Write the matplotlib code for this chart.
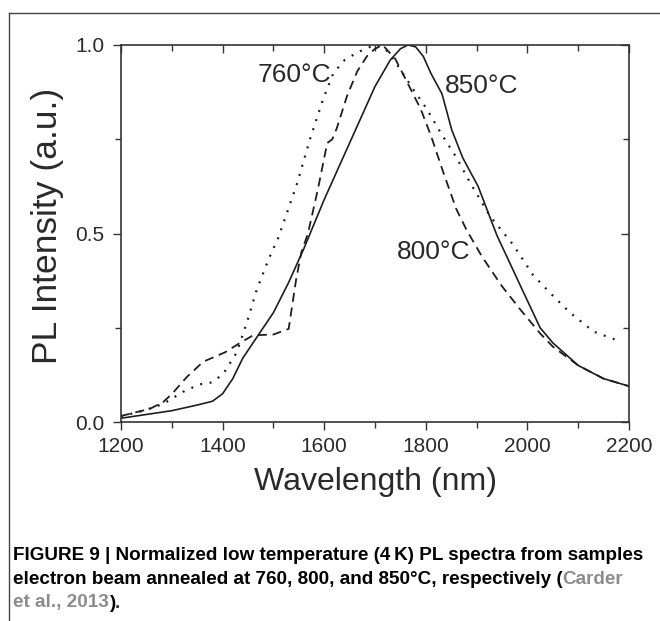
import matplotlib
matplotlib.use("Agg")
import matplotlib.pyplot as plt
from matplotlib.lines import Line2D
from matplotlib.ticker import MultipleLocator

plt.rcParams['font.family'] = ['Liberation Sans', 'DejaVu Sans']

# ---- data ----
x_850 = [1200, 1250, 1300, 1350, 1380, 1400, 1420, 1440, 1470, 1500, 1530, 1560,
         1600, 1650, 1700, 1730, 1750, 1765, 1780, 1795, 1810, 1832, 1851, 1873,
         1903, 1940, 1985, 2025, 2050, 2100, 2150, 2200]
y_850 = [0.010, 0.020, 0.030, 0.045, 0.055, 0.075, 0.115, 0.170, 0.230, 0.290, 0.370, 0.460,
         0.590, 0.740, 0.890, 0.960, 0.990, 1.000, 0.995, 0.970, 0.925, 0.870, 0.775, 0.700,
         0.625, 0.495, 0.365, 0.250, 0.210, 0.150, 0.115, 0.095]

x_800 = [1200, 1257, 1283, 1300, 1330, 1362, 1405, 1431, 1460, 1500, 1530, 1545,
         1555, 1568, 1588, 1606, 1616, 1625, 1645, 1665, 1684, 1700, 1715, 1740,
         1760, 1790, 1810, 1835, 1860, 1880, 1910, 1950, 1985, 2025, 2050, 2100,
         2150, 2200]
y_800 = [0.016, 0.035, 0.053, 0.074, 0.120, 0.160, 0.185, 0.207, 0.230, 0.232, 0.247, 0.380,
         0.450, 0.500, 0.620, 0.740, 0.750, 0.780, 0.865, 0.930, 0.970, 0.990, 1.000, 0.963,
         0.910, 0.830, 0.760, 0.660, 0.565, 0.510, 0.440, 0.360, 0.300, 0.235, 0.200, 0.150,
         0.115, 0.095]

x_760 = [1200, 1244, 1283, 1322, 1355, 1379, 1401, 1428, 1448, 1467, 1490, 1510,
         1546, 1572, 1598, 1618, 1640, 1665, 1690, 1705, 1720, 1736, 1775, 1802,
         1828, 1861, 1887, 1926, 1972, 2011, 2050, 2084, 2130, 2180]
y_760 = [0.015, 0.030, 0.048, 0.080, 0.100, 0.105, 0.127, 0.185, 0.265, 0.350, 0.430, 0.490,
         0.630, 0.750, 0.857, 0.925, 0.960, 0.980, 0.995, 1.000, 0.990, 0.963, 0.883, 0.830,
         0.770, 0.700, 0.635, 0.547, 0.470, 0.390, 0.335, 0.290, 0.240, 0.215]

labels = ["760\u00b0C", "800\u00b0C", "850\u00b0C"]
label_pos = [(1542, 0.92), (1816, 0.45), (1909, 0.89)]

x_ticks = [1200, 1400, 1600, 1800, 2000, 2200]
y_ticks = [0.0, 0.5, 1.0]

# ---- figure ----
W, H = 660, 621
fig = plt.figure(figsize=(W / 100, H / 100), dpi=100)
ax = fig.add_axes([121 / W, 1 - 422 / H, (629 - 121) / W, (422 - 45) / H])

lc = '#1e1e1e'
ax.plot(x_850, y_850, color=lc, lw=1.2, ls='-')
ax.plot(x_800, y_800, color=lc, lw=1.3, ls=(0, (5.0, 3.2)))
ax.plot(x_760, y_760, color=lc, lw=1.6, ls=(0, (0.9, 3.4)))

ax.set_xlim(1200, 2200)
ax.set_ylim(0, 1.0)
ax.set_xticks(x_ticks)
ax.set_yticks(y_ticks)
ax.set_xticklabels([str(v) for v in x_ticks])
ax.set_yticklabels(["%.1f" % v for v in y_ticks])
ax.xaxis.set_minor_locator(MultipleLocator(100))
ax.yaxis.set_minor_locator(MultipleLocator(0.25))

tc = '#333333'
for s in ax.spines.values():
    s.set_color(tc)
    s.set_linewidth(1.2)

ax.tick_params(axis='both', which='both', colors=tc, labelcolor='#2a2a2a',
               labelsize=15, width=1.0)
ax.tick_params(axis='both', which='major', length=6)
ax.tick_params(axis='both', which='minor', length=4)
ax.tick_params(axis='x', which='both', direction='out', top=False, pad=5)
ax.tick_params(axis='y', which='both', direction='out', right=False, pad=6)

# mirrored inward ticks on top and right
axt = ax.secondary_xaxis('top')
axt.set_xticks(x_ticks)
axt.xaxis.set_minor_locator(MultipleLocator(100))
axt.tick_params(which='both', direction='in', labeltop=False, colors=tc, width=1.0)
axt.tick_params(which='major', length=6)
axt.tick_params(which='minor', length=4)
axr = ax.secondary_yaxis('right')
axr.set_yticks(y_ticks)
axr.yaxis.set_minor_locator(MultipleLocator(0.25))
axr.tick_params(which='both', direction='in', labelright=False, colors=tc, width=1.0)
axr.tick_params(which='major', length=6)
axr.tick_params(which='minor', length=4)
for sp in list(axt.spines.values()) + list(axr.spines.values()):
    sp.set_visible(False)

ax.set_xlabel("Wavelength (nm)", fontsize=23, color='#2a2a2a', labelpad=8)
ax.set_ylabel("PL Intensity (a.u.)", fontsize=25.5, color='#2a2a2a', labelpad=10)
ax.yaxis.set_label_coords(-0.113, 0.52)

for txt, (xx, yy) in zip(labels, label_pos):
    ax.text(xx, yy, txt, fontsize=19, color='#2a2a2a', ha='center', va='center')

# outer frame (top and left borders)
fig.add_artist(Line2D([9 / W, 9 / W], [0, 1 - 13 / H], transform=fig.transFigure,
                      color='#444444', lw=1.0))
fig.add_artist(Line2D([9 / W, 1], [1 - 13 / H, 1 - 13 / H], transform=fig.transFigure,
                      color='#444444', lw=1.0))

# caption
cap_font = dict(fontsize=13.6, fontweight='bold',
                family=['Liberation Sans', 'DejaVu Sans'],
                va='center', ha='left')
gray = '#8c8c8c'
lines = [
    [("FIGURE 9 | Normalized low temperature (4\u2009K) PL spectra from samples", 'black')],
    [("electron beam annealed at 760, 800, and 850\u00b0C, respectively (", 'black'),
     ("Carder", gray)],
    [("et al., 2013", gray), (")", 'black'), (".", '#333333')],
]
line_y = [555, 579, 603]
fig.canvas.draw()
renderer = fig.canvas.get_renderer()
for pieces, yy in zip(lines, line_y):
    xpix = 13
    for s, c in pieces:
        t = fig.text(xpix / W, 1 - yy / H, s, color=c, **cap_font)
        bb = t.get_window_extent(renderer=renderer)
        xpix += bb.width

fig.savefig("out.png", dpi=100)
